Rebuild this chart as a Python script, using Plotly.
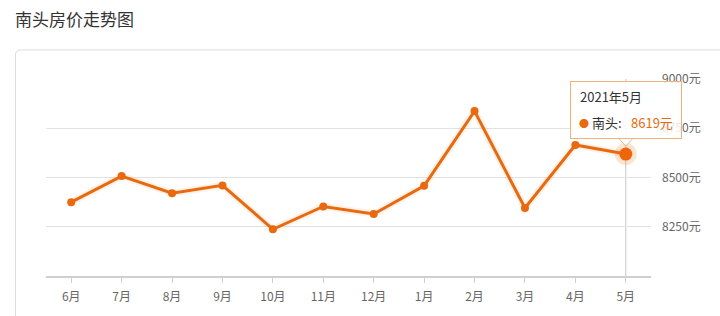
import plotly.graph_objects as go

months = ["6月", "7月", "8月", "9月", "10月", "11月", "12月", "1月", "2月", "3月", "4月", "5月"]
prices = [8375, 8507, 8420, 8460, 8237, 8353, 8315, 8458, 8837, 8345, 8665, 8619]
y_ticks = [8250, 8500, 8750, 9000]
y_labels = [f"{v}元" for v in y_ticks]
title_text = "南头房价走势图"
series_name = "南头"
hover_period = "2021年5月"

W, H = 720, 316
ML, MR, MT, MB = 46, 69, 79, 37
ORANGE = "#e8690f"
FONT = "Noto Sans CJK SC"

def px_x(p):
    return (p - ML) / (W - ML - MR)

def px_y(p):
    return 1 - (p - MT) / (H - MT - MB)

hi = len(months) - 1

fig = go.Figure()
# soft glow under the line
fig.add_trace(go.Scatter(x=months, y=prices, mode="lines",
                         line=dict(color="rgba(240,150,60,0.12)", width=7),
                         hoverinfo="skip", showlegend=False))
fig.add_trace(go.Scatter(x=months, y=prices, mode="lines+markers",
                         line=dict(color=ORANGE, width=3),
                         marker=dict(size=8, color=ORANGE),
                         name=series_name, showlegend=False))
# highlighted point
fig.add_trace(go.Scatter(x=[months[hi]], y=[prices[hi]], mode="markers",
                         marker=dict(size=22, color="rgba(240,120,30,0.2)"),
                         hoverinfo="skip", showlegend=False))
fig.add_trace(go.Scatter(x=[months[hi]], y=[prices[hi]], mode="markers",
                         marker=dict(size=13, color="#f0650c"),
                         hoverinfo="skip", showlegend=False))

# card border (rounded)
x0, y0, x1, y1, r = 15.5, 49.5, 730, 330, 5
card_path = (f"M {px_x(x0)},{px_y(y0 + r)} "
             f"Q {px_x(x0)},{px_y(y0)} {px_x(x0 + r)},{px_y(y0)} "
             f"L {px_x(x1)},{px_y(y0)} L {px_x(x1)},{px_y(y1)} "
             f"L {px_x(x0)},{px_y(y1)} Z")
shapes = [
    dict(type="path", xref="paper", yref="paper", path=card_path,
         line=dict(color="#dcdcdc", width=1), fillcolor="rgba(0,0,0,0)", layer="below"),
    # crosshair
    dict(type="line", xref="x", yref="y", x0=hi, x1=hi, y0=8000, y1=9000,
         line=dict(color="#c8c8c8", width=1), layer="below"),
    # tooltip pointer
    dict(type="path", xref="x", yref="y", xsizemode="pixel", ysizemode="pixel",
         xanchor=hi, yanchor=prices[hi],
         path="M -7,15.5 L 0,8 L 7,15.5",
         fillcolor="rgba(255,255,255,0.88)", line=dict(color="#f0b27a", width=1)),
]

tip_font = dict(family=FONT, size=13, color="#333")
annotations = [
    # tooltip box
    dict(xref="x", yref="y", x=hi, y=prices[hi], showarrow=False,
         xanchor="center", yanchor="bottom", yshift=15, text=" ",
         bgcolor="rgba(255,255,255,0.86)", bordercolor="#f0b27a", borderwidth=1,
         borderpad=7, width=96, height=42),
    dict(xref="x", yref="y", x=hi, y=prices[hi], showarrow=False,
         xanchor="left", yanchor="middle", xshift=-48, yshift=58,
         text=hover_period, font=dict(family=FONT, size=13, color="#333")),
    dict(xref="x", yref="y", x=hi, y=prices[hi], showarrow=False,
         xanchor="left", yanchor="middle", xshift=-49, yshift=32,
         text=f"<span style='color:{ORANGE};font-size:10px'>●</span> {series_name}:",
         font=tip_font),
    dict(xref="x", yref="y", x=hi, y=prices[hi], showarrow=False,
         xanchor="left", yanchor="middle", xshift=3, yshift=32,
         text=f"{prices[hi]}元", font=dict(family=FONT, size=13, color=ORANGE)),
]

fig.update_layout(
    width=W, height=H,
    margin=dict(l=ML, r=MR, t=MT, b=MB),
    paper_bgcolor="white", plot_bgcolor="white",
    font=dict(family=FONT, size=12, color="#666"),
    title=dict(text=title_text, x=15 / W, xanchor="left", xref="container",
               y=1 - 20 / H, yanchor="middle", yref="container",
               font=dict(family=FONT, size=17, color="#333")),
    shapes=shapes, annotations=annotations,
    xaxis=dict(type="category", range=[-0.5, len(months) - 0.5],
               showgrid=False, showline=True, linecolor="#cfcfcf", linewidth=2,
               ticks="outside", ticklen=5, tickcolor="#cfcfcf", tickwidth=1,
               tickfont=dict(family=FONT, size=12, color="#666"),
               ticklabelstandoff=4, fixedrange=True),
    yaxis=dict(range=[8000, 9000], side="right", tickvals=y_ticks, ticktext=y_labels,
               showgrid=True, gridcolor="#e2e2e2", gridwidth=1, zeroline=False,
               showline=False, ticks="", ticklabelstandoff=10,
               tickfont=dict(family=FONT, size=12, color="#666"), fixedrange=True),
    showlegend=False,
)

fig.write_html("out.html")
